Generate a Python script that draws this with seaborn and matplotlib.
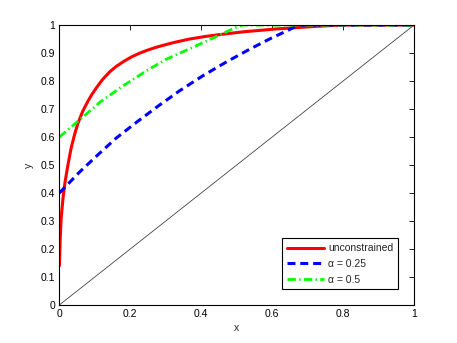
import matplotlib
matplotlib.use("Agg")
import matplotlib.pyplot as plt
import seaborn as sns
import pandas as pd

# ---- data ----
unc_x = [0, 0.002, 0.005, 0.010, 0.016, 0.024, 0.033, 0.043, 0.052, 0.065, 0.080, 0.092,
         0.105, 0.122, 0.142, 0.160, 0.180, 0.203, 0.227, 0.250, 0.274, 0.300, 0.321,
         0.363, 0.410, 0.472, 0.520, 0.566, 0.610, 0.660, 0.720, 0.780, 0.820, 1.0]
unc_y = [0.14, 0.23, 0.31, 0.38, 0.44, 0.50, 0.56, 0.61, 0.648, 0.69, 0.727, 0.753,
         0.777, 0.806, 0.833, 0.852, 0.869, 0.886, 0.900, 0.911, 0.921, 0.930, 0.937,
         0.949, 0.959, 0.969, 0.976, 0.981, 0.986, 0.990, 0.995, 0.999, 1.0, 1.0]

a25_x = [0, 0.057, 0.109, 0.160, 0.221, 0.280, 0.340, 0.406, 0.472, 0.537, 0.594,
         0.641, 0.665, 0.680, 1.0]
a25_y = [0.40, 0.475, 0.537, 0.596, 0.656, 0.712, 0.766, 0.820, 0.869, 0.914, 0.951,
         0.979, 0.994, 1.0, 1.0]

a50_x = [0, 0.052, 0.116, 0.180, 0.246, 0.300, 0.365, 0.410, 0.453, 0.500, 0.515, 1.0]
a50_y = [0.60, 0.656, 0.726, 0.783, 0.837, 0.877, 0.914, 0.940, 0.965, 0.993, 1.0, 1.0]

diag_x = [0, 1]
diag_y = [0, 1]

labels = ["unconstrained", "\u03b1 = 0.25", "\u03b1 = 0.5"]
x_ticks = [0, 0.2, 0.4, 0.6, 0.8, 1]
x_ticklabels = ["0", "0.2", "0.4", "0.6", "0.8", "1"]
y_ticks = [0, 0.1, 0.2, 0.3, 0.4, 0.5, 0.6, 0.7, 0.8, 0.9, 1]
y_ticklabels = ["0", "0.1", "0.2", "0.3", "0.4", "0.5", "0.6", "0.7", "0.8", "0.9", "1"]

sns.set_style("white")
plt.rcParams["font.family"] = ["Liberation Sans", "DejaVu Sans"]

fig = plt.figure(figsize=(4.57, 3.43), dpi=100)
ax = fig.add_axes([0.130, 0.111, 0.776, 0.816])

df_diag = pd.DataFrame({"x": diag_x, "y": diag_y})
sns.lineplot(data=df_diag, x="x", y="y", ax=ax, color="#444444", lw=0.6,
             sort=False, estimator=None)

df_u = pd.DataFrame({"x": unc_x, "y": unc_y})
sns.lineplot(data=df_u, x="x", y="y", ax=ax, color="#ff0000", lw=2.2,
             sort=False, estimator=None, label=labels[0])

df_a = pd.DataFrame({"x": a25_x, "y": a25_y})
sns.lineplot(data=df_a, x="x", y="y", ax=ax, color="#0000ff", lw=2.2,
             sort=False, estimator=None, label=labels[1], dashes=(2.6, 1.6))

df_b = pd.DataFrame({"x": a50_x, "y": a50_y})
sns.lineplot(data=df_b, x="x", y="y", ax=ax, color="#00ff00", lw=2.0,
             sort=False, estimator=None, label=labels[2], dashes=(3.0, 1.2, 0.5, 1.2))

ax.set_xlim(0, 1)
ax.set_ylim(0, 1)
ax.set_xticks(x_ticks)
ax.set_xticklabels(x_ticklabels)
ax.set_yticks(y_ticks)
ax.set_yticklabels(y_ticklabels)
ax.tick_params(direction="in", length=3.5, width=0.6, top=True, right=True,
               labelsize=7.5, pad=3, colors="black")
for s in ax.spines.values():
    s.set_visible(True)
    s.set_color("black")
    s.set_linewidth(0.8)
ax.set_xlabel("x", fontsize=7.5, labelpad=3)
ax.set_ylabel("y", fontsize=7.5, labelpad=5)

leg = ax.legend(loc="lower right", fontsize=7.5, frameon=True, fancybox=False,
                edgecolor="black", framealpha=1, borderpad=0.45, handlelength=3.6,
                handletextpad=0.4, labelspacing=0.55, borderaxespad=1.5)
leg.get_frame().set_linewidth(0.8)

fig.savefig("out.png", dpi=100, facecolor="white")
